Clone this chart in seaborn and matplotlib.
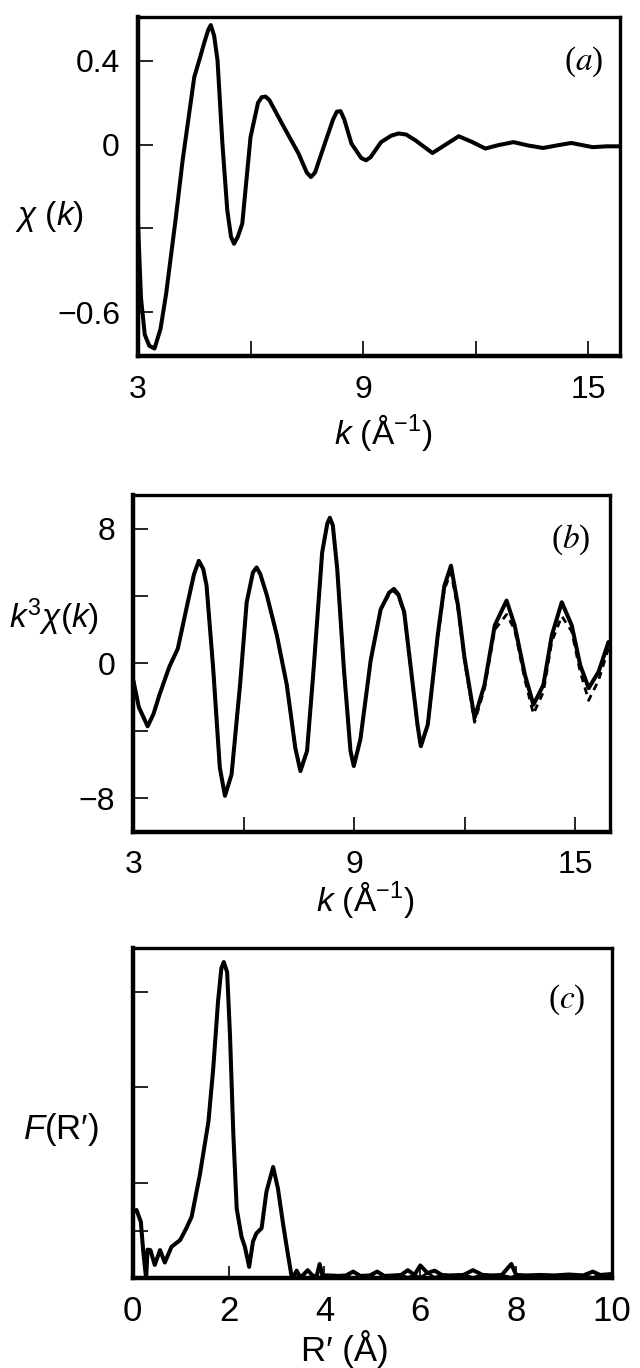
import matplotlib
matplotlib.use("Agg")
import numpy as np
import pandas as pd
import seaborn as sns
import matplotlib.pyplot as plt

# ---------------- data ----------------
a_k = [3.0, 3.08, 3.18, 3.3, 3.44, 3.6, 3.75, 4.01, 4.19, 4.5, 4.65, 4.76, 4.87, 4.94,
       5.03, 5.12, 5.25, 5.38, 5.48, 5.56, 5.66, 5.78, 6.0, 6.2, 6.3, 6.4, 6.5, 6.84,
       7.28, 7.5, 7.61, 7.72, 7.98, 8.2, 8.3, 8.4, 8.5, 8.69, 8.95, 9.08, 9.2, 9.48,
       9.75, 9.95, 10.15, 10.4, 10.85, 11.2, 11.55, 11.9, 12.26, 12.6, 13.01, 13.4,
       13.8, 14.2, 14.55, 15.12, 15.5, 15.88]
a_chi = [-0.28, -0.55, -0.68, -0.72, -0.73, -0.66, -0.534, -0.26, -0.056, 0.242, 0.31,
         0.362, 0.41, 0.428, 0.39, 0.302, 0.004, -0.235, -0.33, -0.355, -0.33, -0.283,
         0.027, 0.15, 0.17, 0.172, 0.16, 0.075, -0.032, -0.1, -0.116, -0.1, 0.004,
         0.09, 0.118, 0.12, 0.09, 0.004, -0.048, -0.056, -0.045, 0.009, 0.032, 0.04,
         0.036, 0.015, -0.03, 0.0, 0.03, 0.01, -0.014, -0.002, 0.009, -0.003, -0.012,
         -0.002, 0.006, -0.009, -0.006, -0.006]
a_yticks = [0.3, 0.0, -0.3, -0.6]
a_yticklabels = ["0.4", "0", "", "\u22120.6"]

b_k = [3.0, 3.15, 3.39, 3.55, 3.71, 3.98, 4.21, 4.48, 4.65, 4.78, 4.9, 4.99, 5.17, 5.35,
       5.49, 5.67, 5.9, 6.08, 6.25, 6.35, 6.45, 6.63, 6.9, 7.17, 7.4, 7.54, 7.72, 7.9,
       8.13, 8.27, 8.34, 8.42, 8.54, 8.72, 8.9, 8.99, 9.17, 9.45, 9.72, 9.95, 10.08,
       10.2, 10.36, 10.54, 10.72, 10.81, 11.0, 11.27, 11.45, 11.63, 11.82, 12.0, 12.27,
       12.54, 12.82, 13.14, 13.36, 13.64, 13.87, 14.14, 14.37, 14.64, 14.91, 15.14,
       15.37, 15.64, 15.91]
b_obs = [-1.0, -2.6, -3.74, -3.0, -1.87, -0.2, 0.88, 3.63, 5.3, 6.09, 5.6, 4.62, -0.3,
         -6.19, -7.87, -6.59, -1.28, 3.63, 5.4, 5.7, 5.3, 4.03, 1.67, -1.28, -5.01,
         -6.4, -5.2, -0.3, 6.58, 8.3, 8.65, 8.2, 5.6, -0.3, -5.2, -6.1, -4.5, 0.2, 3.2,
         4.2, 4.42, 4.1, 3.04, -0.3, -3.64, -4.92, -3.64, 1.67, 4.6, 5.8, 3.44, 0.3,
         -3.24, -1.28, 2.26, 3.73, 2.26, -0.69, -2.46, -1.28, 1.67, 3.63, 2.26, -0.1,
         -1.47, -0.5, 1.27]
b_fit = [-1.0, -2.6, -3.74, -3.0, -1.87, -0.2, 0.88, 3.63, 5.3, 6.09, 5.6, 4.62, -0.3,
         -6.19, -7.87, -6.59, -1.28, 3.63, 5.4, 5.7, 5.3, 4.03, 1.67, -1.28, -5.01,
         -6.4, -5.2, -0.3, 6.58, 8.3, 8.65, 8.2, 5.6, -0.3, -5.2, -6.1, -4.5, 0.2, 3.2,
         4.1, 4.3, 4.0, 2.9, -0.4, -3.8, -5.0, -3.7, 1.5, 4.4, 5.4, 3.2, 0.1,
         -3.5, -1.5, 2.0, 2.9, 2.0, -1.0, -3.0, -1.7, 1.3, 2.8, 1.9, -0.5,
         -2.2, -1.0, 0.9]
b_yticks = [8, 4, 0, -4, -8]
b_yticklabels = ["8", "", "0", "", "\u22128"]

c_r = [0.01, 0.08, 0.17, 0.22, 0.28, 0.31, 0.37, 0.46, 0.57, 0.67, 0.81, 0.99, 1.12,
       1.23, 1.4, 1.58, 1.68, 1.78, 1.85, 1.9, 1.97, 2.03, 2.1, 2.17, 2.27, 2.34, 2.43,
       2.51, 2.58, 2.69, 2.79, 2.93, 3.03, 3.14, 3.24, 3.31,
       3.36, 3.42, 3.48, 3.54, 3.65, 3.76, 3.84, 3.9, 3.96, 4.1, 4.3, 4.45, 4.6, 4.75,
       4.95, 5.1, 5.25, 5.45, 5.6, 5.74, 5.88, 6.0, 6.15, 6.3, 6.45, 6.6, 6.9, 7.1,
       7.3, 7.5, 7.7, 7.9, 8.0, 8.2, 8.5, 8.8, 9.1, 9.4, 9.6, 9.75, 10.0]
c_obs = [1.39, 1.43, 1.18, 0.56, 0.0, 0.6, 0.59, 0.28, 0.59, 0.33, 0.66, 0.8, 1.05,
         1.29, 2.16, 3.28, 4.39, 5.79, 6.49, 6.62, 6.41, 5.09, 3.0, 1.46, 0.87, 0.66,
         0.24, 0.77, 0.94, 1.05, 1.81, 2.33, 1.88, 1.12, 0.49, 0.07,
         0.04, 0.16, 0.05, 0.05, 0.17, 0.05, 0.05, 0.3, 0.06, 0.06, 0.05, 0.06, 0.14,
         0.05, 0.06, 0.14, 0.05, 0.06, 0.07, 0.17, 0.07, 0.27, 0.11, 0.16, 0.07, 0.06,
         0.07, 0.17, 0.07, 0.06, 0.07, 0.3, 0.07, 0.06, 0.07, 0.06, 0.08, 0.06, 0.14,
         0.07, 0.09]
c_fit = [1.39, 1.43, 1.18, 0.56, 0.0, 0.6, 0.59, 0.28, 0.59, 0.33, 0.66, 0.8, 1.05,
         1.29, 2.16, 3.28, 4.39, 5.79, 6.49, 6.62, 6.41, 5.09, 3.0, 1.46, 0.87, 0.66,
         0.24, 0.77, 0.94, 1.05, 1.81, 2.33, 1.88, 1.12, 0.49, 0.07,
         0.04, 0.01, 0.05, 0.05, 0.01, 0.05, 0.05, 0.02, 0.06, 0.06, 0.05, 0.06, 0.01,
         0.05, 0.06, 0.01, 0.05, 0.06, 0.07, 0.02, 0.07, 0.02, 0.11, 0.02, 0.07, 0.06,
         0.07, 0.02, 0.07, 0.06, 0.07, 0.02, 0.07, 0.06, 0.07, 0.06, 0.08, 0.06, 0.02,
         0.07, 0.09]
c_yticks = [1, 2, 4, 6]
c_xticks = [0, 2, 4, 6, 8, 10]

# ---------------- style ----------------
sns.set_style("ticks")
plt.rcParams["font.family"] = ["Liberation Sans", "DejaVu Sans"]
plt.rcParams["mathtext.fontset"] = "custom"
plt.rcParams["mathtext.rm"] = "Liberation Sans"
plt.rcParams["mathtext.it"] = "Liberation Sans:italic"
plt.rcParams["mathtext.bf"] = "Liberation Sans:bold"
plt.rcParams["axes.unicode_minus"] = True
plt.rcParams["lines.solid_joinstyle"] = "round"
plt.rcParams["lines.solid_capstyle"] = "round"
plt.rcParams["text.color"] = "black"
plt.rcParams["axes.labelcolor"] = "black"
plt.rcParams["xtick.color"] = "black"
plt.rcParams["ytick.color"] = "black"

fig = plt.figure(figsize=(6.4, 13.68), dpi=100)
W, H = 640.0, 1368.0
LW = 2.9


def add_ax(left, right, top, bottom):
    return fig.add_axes([left / W, 1 - bottom / H, (right - left) / W, (bottom - top) / H])


def style(ax, xpad, ypad, lsize):
    for name, s in ax.spines.items():
        s.set_linewidth(3.2 if name in ("left", "bottom") else 2.4)
        s.set_color("black")
    ax.tick_params(axis="both", direction="in", length=11, width=1.2, colors="black",
                   labelsize=lsize, top=False, right=False)
    ax.tick_params(axis="x", pad=xpad)
    ax.tick_params(axis="y", pad=ypad)


def panel_tag(ax, x, y, letter):
    ax.text(x, y, "($%s$)" % letter, transform=ax.transAxes, ha="center", va="center",
            fontsize=24, color="black", family="Liberation Serif", math_fontfamily="stix")


# ---------------- (a) ----------------
axa = add_ax(138, 620, 17, 355.5)
df_a = pd.DataFrame({"k": a_k, "chi": a_chi})
sns.lineplot(data=df_a, x="k", y="chi", ax=axa, color="black", linewidth=LW, sort=False)
axa.set_xlim(3.0, 15.85)
axa.set_ylim(-0.755, 0.457)
axa.set_xticks([3, 6, 9, 12, 15], ["3", "", "9", "", "15"])
axa.set_yticks(a_yticks, a_yticklabels)
style(axa, 14, 13, 23)
axa.set_xlabel(r"$k$ (Å$^{\mathrm{-1}}$)", fontsize=24)
axa.xaxis.set_label_coords(0.508, -0.228)
axa.xaxis.label.set_va("center")
axa.set_ylabel(r"$\chi$ ($k$)", fontsize=24, rotation=0, ha="center", va="center")
axa.yaxis.set_label_coords(-0.183, 0.41)
panel_tag(axa, 0.925, 0.867, "a")

# ---------------- (b) ----------------
axb = add_ax(133.3, 610, 495, 831.7)
df_b = pd.DataFrame({"k": b_k + b_k, "val": b_obs + b_fit,
                     "kind": ["obs"] * len(b_k) + ["fit"] * len(b_k)})
sns.lineplot(data=df_b[df_b.kind == "obs"], x="k", y="val", ax=axb, color="black",
             linewidth=LW, sort=False)
sns.lineplot(data=df_b[df_b.kind == "fit"], x="k", y="val", ax=axb, color="black",
             linewidth=2.0, linestyle=(0, (2.5, 2)), sort=False)
axb.set_xlim(3.0, 15.95)
axb.set_ylim(-10, 10)
axb.set_xticks([3, 6, 9, 12, 15], ["3", "", "9", "", "15"])
axb.set_yticks(b_yticks, b_yticklabels)
style(axb, 13, 13, 23)
axb.set_xlabel(r"$k$ (Å$^{\mathrm{-1}}$)", fontsize=24)
axb.xaxis.set_label_coords(0.486, -0.2)
axb.xaxis.label.set_va("center")
axb.set_ylabel(r"$k^{\mathrm{3}}\chi(k)$", fontsize=24, rotation=0, ha="center", va="center")
axb.yaxis.set_label_coords(-0.166, 0.638)
panel_tag(axb, 0.918, 0.866, "b")

# ---------------- (c) ----------------
axc = add_ax(132.7, 612, 947.7, 1278.3)
df_c = pd.DataFrame({"r": c_r, "obs": c_obs, "fit": c_fit})
sns.lineplot(data=df_c, x="r", y="obs", ax=axc, color="black", linewidth=LW, sort=False)
sns.lineplot(data=df_c, x="r", y="fit", ax=axc, color="black", linewidth=1.8, sort=False)
axc.set_xlim(0, 10)
axc.set_ylim(0, 6.92)
axc.set_xticks(c_xticks, [str(v) for v in c_xticks])
axc.set_yticks(c_yticks, ["" for _ in c_yticks])
style(axc, 12, 10, 25)
axc.tick_params(axis="x", length=9)
axc.set_xlabel("R\u2032 (Å)", fontsize=25)
axc.xaxis.set_label_coords(0.443, -0.214)
axc.xaxis.label.set_va("center")
axc.set_ylabel(r"$F$(R$\prime$)", fontsize=25, rotation=0, ha="center", va="center")
axc.yaxis.set_label_coords(-0.15, 0.449)
panel_tag(axc, 0.906, 0.842, "c")

fig.savefig("out.png", dpi=100, facecolor="white")
